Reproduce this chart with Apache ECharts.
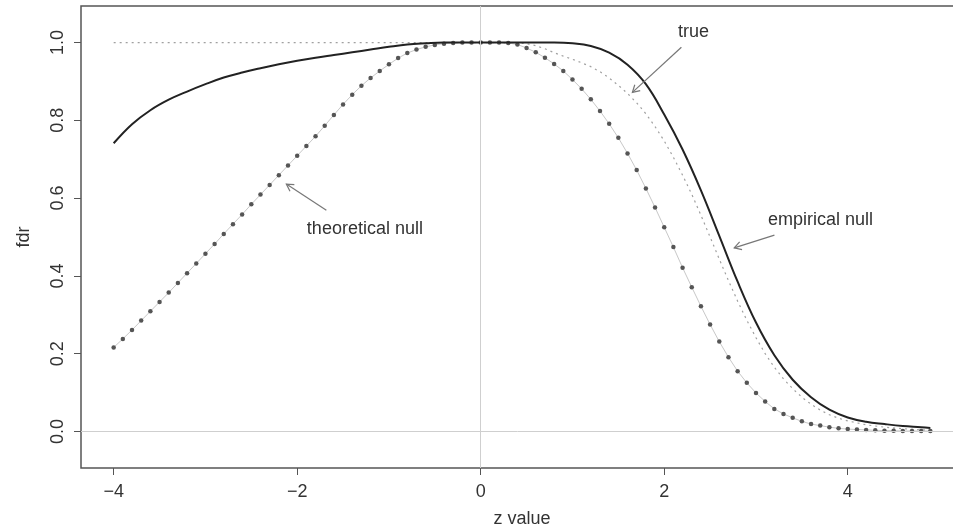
<!DOCTYPE html>
<html><head><meta charset="utf-8">
<script src="https://cdn.jsdelivr.net/npm/echarts@6/dist/echarts.min.js"></script>
<style>html,body{margin:0;padding:0;background:#fff}#c{width:953px;height:525px}</style>
</head><body><div id="c"></div>
<script>
const xTicks = [-4, -2, 0, 2, 4];
const yTicks = [0, 0.2, 0.4, 0.6, 0.8, 1.0];

const zTheo = [-4.0,-3.9,-3.8,-3.7,-3.6,-3.5,-3.4,-3.3,-3.2,-3.1,-3.0,-2.9,-2.8,-2.7,-2.6,-2.5,-2.4,-2.3,-2.2,-2.1,
  -2.0,-1.9,-1.8,-1.7,-1.6,-1.5,-1.4,-1.3,-1.2,-1.1,-1.0,-0.9,-0.8,-0.7,-0.6,-0.5,-0.4,-0.3,-0.2,-0.1,
  0.0,0.1,0.2,0.3,0.4,0.5,0.6,0.7,0.8,0.9,1.0,1.1,1.2,1.3,1.4,1.5,1.6,1.7,1.8,1.9,
  2.0,2.1,2.2,2.3,2.4,2.5,2.6,2.7,2.8,2.9,3.0,3.1,3.2,3.3,3.4,3.5,3.6,3.7,3.8,3.9,
  4.0,4.1,4.2,4.3,4.4,4.5,4.6,4.7,4.8,4.9];
const fdrTheo = [0.216,0.238,0.261,0.285,0.309,0.333,0.357,0.382,0.407,0.432,0.457,0.482,0.508,0.533,0.558,0.584,0.609,0.634,0.659,0.684,
  0.709,0.734,0.759,0.786,0.814,0.841,0.866,0.889,0.909,0.927,0.944,0.960,0.973,0.982,0.989,0.994,0.997,0.999,1.000,1.000,
  1.000,1.000,1.000,0.999,0.995,0.986,0.975,0.961,0.945,0.927,0.905,0.881,0.854,0.824,0.791,0.755,0.715,0.672,0.625,0.576,
  0.525,0.474,0.421,0.371,0.322,0.275,0.231,0.191,0.155,0.125,0.099,0.077,0.058,0.045,0.035,0.026,0.019,0.015,0.011,0.008,
  0.006,0.005,0.004,0.003,0.002,0.002,0.001,0.001,0.001,0.001];

const zTrue = [-4.0,-2.0,0.0,0.4,0.5,0.6,0.7,0.8,0.9,1.0,1.1,1.2,1.3,1.4,1.5,1.6,1.7,1.8,1.9,
  2.0,2.1,2.2,2.3,2.4,2.5,2.6,2.7,2.8,2.9,3.0,3.1,3.2,3.3,3.4,3.5,3.6,3.7,3.8,3.9,4.0,4.2,4.4,4.6,4.8,4.9];
const fdrTrue = [1.000,1.000,1.000,0.999,0.997,0.992,0.984,0.974,0.965,0.957,0.948,0.938,0.925,0.909,0.890,0.869,0.845,0.817,0.784,
  0.747,0.705,0.659,0.610,0.556,0.500,0.443,0.388,0.335,0.286,0.241,0.200,0.165,0.135,0.110,0.088,0.070,0.055,0.043,0.034,0.027,0.017,0.011,0.007,0.004,0.003];

const zEmp = [-4.0,-3.8,-3.6,-3.4,-3.2,-3.0,-2.8,-2.6,-2.4,-2.2,-2.0,-1.8,-1.6,-1.4,-1.2,-1.0,-0.8,-0.6,-0.4,-0.2,
  0.0,0.2,0.4,0.6,0.8,1.0,1.2,1.4,1.6,1.8,2.0,2.2,2.4,2.6,2.8,3.0,3.2,3.4,3.6,3.8,4.0,4.2,4.4,4.6,4.8,4.9];
const fdrEmp = [0.741,0.790,0.826,0.853,0.874,0.893,0.910,0.923,0.934,0.944,0.953,0.961,0.968,0.975,0.982,0.989,0.995,0.998,1.000,1.000,
  1.000,1.000,1.000,1.000,1.000,0.998,0.991,0.974,0.943,0.893,0.815,0.725,0.620,0.503,0.385,0.280,0.196,0.133,0.088,0.056,0.036,0.025,0.019,0.014,0.011,0.009];

const annLabels = ['theoretical null', 'true', 'empirical null'];
const annLabelZ = [-1.262, 2.318, 3.702];
const annLabelFdr = [0.5205, 1.028, 0.544];
const arrowFromZ = [-1.682, 2.187, 3.201];
const arrowFromFdr = [0.569, 0.988, 0.505];
const arrowToZ = [-2.118, 1.653, 2.763];
const arrowToFdr = [0.636, 0.872, 0.472];

const FONT = "'Liberation Sans', Arial, Helvetica, sans-serif";
const TXT = '#333';
const zip = (a, b) => a.map((v, i) => [v, b[i]]);
const fmtX = v => (v < 0 ? '\u2212' + Math.abs(v) : String(v));

const chart = echarts.init(document.getElementById('c'), null, { renderer: 'canvas' });
chart.setOption({
  animation: false,
  backgroundColor: '#fff',
  grid: { left: 81, top: 6, width: 882, height: 462, outerBoundsMode: 'none', containLabel: false,
          show: true, borderColor: '#555', borderWidth: 1.5, backgroundColor: 'transparent' },
  xAxis: {
    type: 'value', min: -4.356, max: 5.256,
    name: 'z value', nameLocation: 'middle', nameGap: 42,
    nameTextStyle: { fontFamily: FONT, fontSize: 18, color: TXT },
    axisLine: { show: false, onZero: false },
    splitLine: { show: false },
    axisTick: { show: true, customValues: xTicks, length: 7, lineStyle: { color: '#555', width: 1 } },
    axisLabel: { customValues: xTicks, formatter: fmtX, fontFamily: FONT, fontSize: 18, color: TXT, margin: 15 }
  },
  yAxis: {
    type: 'value', min: -0.094, max: 1.094,
    name: 'fdr', nameLocation: 'middle', nameRotate: 90, nameGap: 48,
    nameTextStyle: { fontFamily: FONT, fontSize: 18, color: TXT },
    axisLine: { show: false, onZero: false },
    splitLine: { show: false },
    axisTick: { show: true, customValues: yTicks, length: 7, lineStyle: { color: '#555', width: 1 } },
    axisLabel: { customValues: yTicks, rotate: 90, formatter: v => v.toFixed(1), fontFamily: FONT, fontSize: 18, color: TXT, margin: 14 }
  },
  series: [
    {
      type: 'line', data: [], z: 1, silent: true,
      markLine: {
        silent: true, symbol: 'none', animation: false,
        label: { show: false },
        lineStyle: { color: '#cfcfcf', width: 1, type: 'solid' },
        data: [{ xAxis: 0 }, { yAxis: 0 }]
      }
    },
    {
      name: 'true', type: 'line', data: zip(zTrue, fdrTrue), z: 2,
      symbol: 'none', lineStyle: { color: '#a0a0a0', width: 1.2, type: [2, 4] }
    },
    {
      name: 'theoretical null', type: 'line', data: zip(zTheo, fdrTheo), z: 3,
      symbol: 'circle', symbolSize: 4.5, showSymbol: true,
      itemStyle: { color: '#555', borderWidth: 0 },
      lineStyle: { color: '#c8c8c8', width: 1 }
    },
    {
      name: 'empirical null', type: 'line', data: zip(zEmp, fdrEmp), z: 4,
      symbol: 'none', smooth: 0.4,
      lineStyle: { color: '#222', width: 2 }
    },
    {
      type: 'custom', z: 5, silent: true,
      data: arrowFromZ.map((v, i) => [v, arrowFromFdr[i], arrowToZ[i], arrowToFdr[i]]),
      encode: { x: [0, 2], y: [1, 3] },
      renderItem: function (params, api) {
        const p1 = api.coord([api.value(0), api.value(1)]);
        const p2 = api.coord([api.value(2), api.value(3)]);
        const ang = Math.atan2(p1[1] - p2[1], p1[0] - p2[0]);
        const L = 8, A = Math.PI / 6;
        const h1 = [p2[0] + L * Math.cos(ang + A), p2[1] + L * Math.sin(ang + A)];
        const h2 = [p2[0] + L * Math.cos(ang - A), p2[1] + L * Math.sin(ang - A)];
        const st = { stroke: '#777', lineWidth: 1.2 };
        return {
          type: 'group',
          children: [
            { type: 'line', shape: { x1: p1[0], y1: p1[1], x2: p2[0], y2: p2[1] }, style: st },
            { type: 'polyline', shape: { points: [h1, p2, h2] }, style: Object.assign({ fill: null }, st) }
          ]
        };
      }
    },
    {
      type: 'custom', z: 6, silent: true,
      data: annLabelZ.map((v, i) => [v, annLabelFdr[i]]),
      renderItem: function (params, api) {
        const p = api.coord([api.value(0), api.value(1)]);
        return {
          type: 'text', x: p[0], y: p[1],
          style: { text: annLabels[params.dataIndex], fill: TXT, font: '18px ' + FONT, align: 'center', verticalAlign: 'middle' }
        };
      }
    }
  ]
});
</script>
</body></html>
